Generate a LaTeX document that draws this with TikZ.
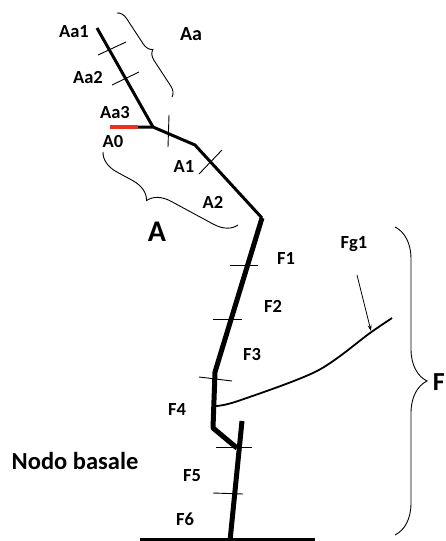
\documentclass[tikz,border=0pt]{standalone}
\usepackage{fontspec}
\setmainfont{Carlito}
\usetikzlibrary{decorations.pathreplacing,arrows.meta}
\definecolor{redseg}{RGB}{235,50,30}
\tikzset{
  lbl/.style={font=\fontsize{18.5}{18.5}\selectfont\bfseries, inner sep=0pt},
  biglbl/.style={font=\fontsize{30}{30}\selectfont\bfseries, inner sep=0pt},
  tick/.style={line width=0.9pt},
  brc/.style={decorate, line width=0.9pt},
  stem/.style={line width=3pt, line join=round},
  stemthick/.style={line width=5pt, line join=round},
}
\begin{document}
\begin{tikzpicture}[x=1pt,y=-1pt]
\useasboundingbox (0,0) rectangle (445,541);
% coordinates of the plant
\coordinate (top) at (97,28);
\coordinate (j0) at (153,127);
\coordinate (r0) at (110,127);
\coordinate (r1) at (138,127);
\coordinate (a1) at (195,145);
\coordinate (a2) at (262,218);
\coordinate (f3) at (215,372);
\coordinate (f4) at (213,428);
\coordinate (f5) at (237,448);
\coordinate (s0) at (242,421);
\coordinate (s1) at (230,541);
\coordinate (b0) at (140,540);
\coordinate (b1) at (315,540);
% stems
\draw[stem] (top) -- (j0);
\draw[stem] (r1) -- (j0) -- (a1) -- (a2);
\draw[line width=4pt, redseg] (r0) -- (r1);
\draw[stemthick] (a2) -- (f3) -- (f4) -- (f5);
\draw[stemthick] (s0) -- (s1);
\draw[line width=4pt] (b0) -- (b1);
% side branch
\draw[line width=1.8pt] plot[smooth] coordinates {(216,406) (238,401) (317,371) (370,333) (392,318)};
% ticks
\draw[tick] (98,55) -- (126,42);
\draw[tick] (112,85) -- (139,72);
\draw[tick] (169,115) -- (168,147);
\draw[tick] (199,174) -- (222,150);
\draw[tick] (230,265) -- (258,265);
\draw[tick] (213,319) -- (242,319);
\draw[tick] (199,377) -- (232,381);
\draw[tick] (216,447) -- (252,447);
\draw[tick] (213,493) -- (243,494);
% braces
\draw[brc, decoration={brace, amplitude=10pt}] (117,13) -- (172,97);
\draw[brc, decoration={brace, amplitude=22pt, aspect=0.6}] (238,225) -- (103,152);
\draw[brc, decoration={brace, amplitude=32pt}] (395,227) -- (395,535);
% labels
\node[lbl] (Aa1) at (74,32) {Aa1};
\node[lbl, font=\fontsize{20}{20}\selectfont\bfseries] (Aa) at (191,34) {Aa};
\node[lbl] (Aa2) at (88,78) {Aa2};
\node[lbl] (Aa3) at (115,112) {Aa3};
\node[lbl] (A0) at (113,141) {A0};
\node[lbl] (A1) at (184,166) {A1};
\node[lbl] (A2) at (213,202) {A2};
\node[biglbl] (A) at (157,232) {A};
\node[lbl] (F1) at (286,258) {F1};
\node[lbl] (Fg1) at (354,244) {Fg1};
\node[lbl] (F2) at (273,306) {F2};
\node[lbl] (F3) at (252,354) {F3};
\node[lbl] (F4) at (177,409) {F4};
\node[lbl] (F5) at (192,476) {F5};
\node[lbl] (F6) at (185,519) {F6};
\node[lbl, font=\fontsize{24.5}{24.5}\selectfont\bfseries] (nb) at (75,461) {Nodo basale};
\node[biglbl, font=\fontsize{26}{26}\selectfont\bfseries, anchor=east] (F) at (445,382) {F};
% arrow to side branch
\coordinate (arrS) at (357,275);
\coordinate (arrE) at (371,331);
\draw[line width=0.8pt, -{Stealth[length=6pt,width=4pt]}] (arrS) -- (arrE);
\end{tikzpicture}
\end{document}
